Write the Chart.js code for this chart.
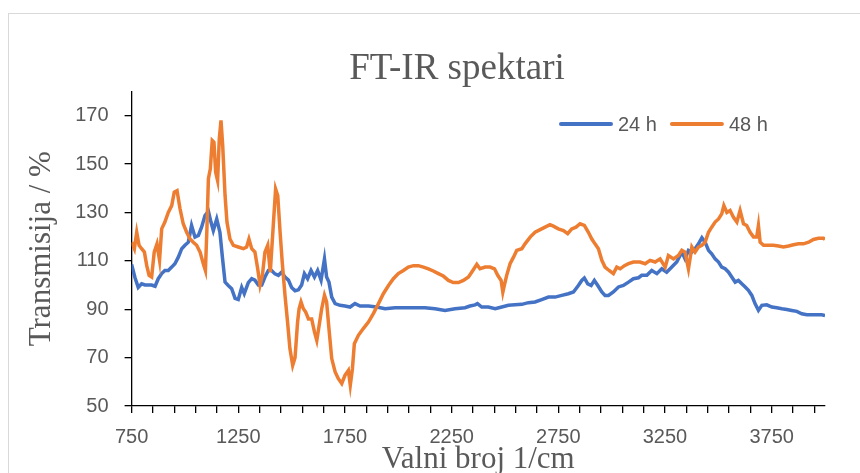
<!DOCTYPE html>
<html>
<head>
<meta charset="utf-8">
<script src="https://cdn.jsdelivr.net/npm/chart.js@4.4.1/dist/chart.umd.min.js"></script>
<style>
  body { margin: 0; background: #fff; overflow: hidden; }
  #frame { position: absolute; left: 8px; top: 13px; width: 900px; height: 500px; border: 1px solid #d9d9d9; }
  #wrap { position: absolute; left: 0; top: 0; width: 860px; height: 473px; }
</style>
</head>
<body>
<div id="frame"></div>
<div id="wrap"><canvas id="myChart" width="860" height="473"></canvas></div>
<script>
/*** data ***/
// 24 h spectrum: wavenumber (1/cm) and transmission (%)
const wn24 = [750, 766, 781, 797, 813, 828, 844, 860, 875, 891,
  906, 922, 938, 953, 969, 985, 1000, 1016, 1031, 1047,
  1063, 1078, 1094, 1110, 1122, 1133, 1149, 1164, 1175, 1188,
  1203, 1219, 1235, 1250, 1266, 1278, 1297, 1313, 1328, 1344,
  1360, 1375, 1391, 1406, 1422, 1438, 1453, 1469, 1485, 1500,
  1516, 1532, 1547, 1560, 1575, 1591, 1607, 1622, 1638, 1654,
  1664, 1675, 1688, 1704, 1727, 1750, 1774, 1797, 1821, 1860,
  1899, 1938, 1985, 2032, 2079, 2125, 2172, 2219, 2266, 2313,
  2336, 2360, 2371, 2391, 2422, 2454, 2485, 2516, 2547, 2579,
  2610, 2641, 2672, 2704, 2735, 2766, 2797, 2821, 2844, 2860,
  2872, 2888, 2904, 2919, 2935, 2954, 2969, 2985, 3008, 3032,
  3055, 3079, 3102, 3126, 3141, 3165, 3188, 3212, 3235, 3258,
  3282, 3305, 3329, 3344, 3360, 3376, 3391, 3407, 3423, 3438,
  3454, 3469, 3485, 3501, 3516, 3532, 3548, 3563, 3579, 3594,
  3610, 3626, 3641, 3657, 3672, 3688, 3704, 3727, 3751, 3774,
  3798, 3821, 3844, 3868, 3891, 3915, 3938, 3962, 3985, 4000];
const t24 = [108.5, 103, 99, 100.5, 100, 100, 100, 99.5, 102.6, 104.7,
  106, 106, 107.4, 108.8, 111.5, 115, 116.4, 117.7, 124.6, 119.8,
  120.5, 123.9, 128.7, 130.5, 126, 122.5, 127.3, 121.8, 112, 101.2,
  99.8, 98.5, 94.5, 94, 99, 96.4, 101, 102.6, 102, 100,
  100, 103.3, 106, 106, 104.6, 104, 105.3, 103.3, 102, 99,
  97.6, 98, 100, 104.7, 102.6, 106, 103.3, 106, 102, 110.8,
  103.3, 101.2, 95, 92.3, 91.6, 91.3, 90.9, 92.3, 91.3, 91.3,
  90.9, 90.2, 90.6, 90.6, 90.6, 90.6, 90.2, 89.5, 90.2, 90.6,
  91.3, 91.8, 92.3, 90.9, 90.9, 90.2, 90.9, 91.6, 91.8, 92,
  92.7, 93, 94, 95, 95, 95.7, 96.4, 97.1, 99.8, 101.9,
  102.9, 100.5, 99.8, 101.9, 99.8, 97.1, 95.7, 95.7, 97.1, 99.2,
  99.8, 101.2, 102.6, 103, 104, 104, 106, 104.7, 106.7, 105.3,
  107.4, 109.5, 113.6, 110.8, 114.3, 113.6, 115, 117, 119.5, 117.7,
  114.3, 112.9, 110.8, 109.5, 107.4, 106.7, 105.3, 103.3, 101.2, 101.9,
  100.5, 99.2, 97.8, 95.7, 92.3, 89.5, 91.6, 91.8, 90.9, 90.6,
  90.2, 89.9, 89.5, 89.1, 88.1, 87.7, 87.7, 87.7, 87.7, 87.4];

// 48 h spectrum
const wn48 = [750, 763, 774, 785, 797, 810, 821, 832, 844, 856,
  869, 881, 891, 906, 922, 938, 950, 963, 977, 992,
  1008, 1024, 1039, 1055, 1071, 1086, 1096, 1103, 1110, 1119,
  1128, 1136, 1144, 1153, 1161, 1169, 1177, 1188, 1197, 1211,
  1227, 1250, 1274, 1289, 1300, 1313, 1328, 1341, 1352, 1363,
  1375, 1388, 1400, 1413, 1425, 1435, 1446, 1456, 1469, 1481,
  1492, 1505, 1516, 1528, 1535, 1544, 1555, 1566, 1579, 1594,
  1607, 1618, 1629, 1641, 1654, 1664, 1675, 1688, 1704, 1719,
  1735, 1750, 1766, 1775, 1785, 1794, 1813, 1836, 1860, 1883,
  1907, 1930, 1954, 1977, 2000, 2024, 2047, 2071, 2094, 2118,
  2141, 2164, 2188, 2211, 2235, 2258, 2282, 2305, 2329, 2344,
  2360, 2368, 2383, 2407, 2430, 2451, 2466, 2482, 2490, 2497,
  2508, 2524, 2540, 2555, 2579, 2594, 2618, 2641, 2665, 2688,
  2711, 2727, 2750, 2774, 2794, 2813, 2833, 2852, 2872, 2891,
  2907, 2922, 2938, 2954, 2969, 2988, 3008, 3024, 3040, 3060,
  3079, 3102, 3133, 3157, 3180, 3204, 3227, 3251, 3266, 3290,
  3313, 3329, 3344, 3360, 3376, 3391, 3407, 3423, 3438, 3454,
  3469, 3485, 3501, 3516, 3526, 3540, 3555, 3571, 3587, 3602,
  3618, 3633, 3649, 3665, 3680, 3688, 3696, 3712, 3735, 3758,
  3782, 3805, 3829, 3852, 3876, 3899, 3923, 3946, 3969, 3993, 4000];
const t48 = [117.7, 115, 121.8, 116.4, 115, 113.6, 108, 104, 103.3, 113.6,
  117, 110.2, 123.2, 126, 130, 132.8, 138.4, 139, 131.5, 125.3,
  121.8, 119, 117.7, 116.4, 113.6, 108.8, 106, 123.2, 143.9, 148,
  159.7, 159, 146.6, 143.2, 160.4, 168, 157.6, 137, 126, 119,
  116.4, 115.7, 115, 115.7, 119, 115, 113.6, 106.7, 100, 104,
  113.6, 116.4, 105.3, 123.2, 139.7, 137, 121.8, 109.5, 95.7, 84.7,
  73.7, 66.8, 70, 84.7, 90.2, 93, 90.2, 88.8, 86, 86,
  80.6, 77.1, 83.3, 90.2, 95.7, 93, 82, 69.6, 64.1, 61.3,
  59.3, 62.7, 64.7, 58.6, 65.4, 75.7, 79.2, 82, 84.7, 88.2,
  92.3, 96.4, 99.8, 102.6, 104.7, 106, 107.4, 108, 108, 107.4,
  106.7, 105.8, 104.7, 103.7, 101.9, 101, 101, 101.9, 103.3, 105.3,
  107.4, 108.5, 106.7, 107.4, 107.4, 106.7, 104, 101.9, 97, 99.8,
  104, 108.8, 111.5, 114.3, 115, 117, 119.8, 121.8, 122.9, 123.9,
  124.9, 124.3, 123.2, 122.5, 121.2, 123.2, 123.9, 125.3, 124.6, 121.8,
  119, 117, 115, 110.2, 107.4, 106, 104.7, 107.4, 106.7, 108,
  108.8, 109.5, 109.5, 108.8, 110.2, 109.5, 110.8, 107.4, 112.2, 110.8,
  112.2, 114.3, 113.6, 106.7, 115.7, 113.6, 115.7, 116.4, 117.7, 121.8,
  123.9, 126, 127.3, 129.4, 132.8, 130, 130.8, 128, 126, 130.8,
  125.3, 124.6, 121.8, 119.8, 119.8, 124.6, 117.7, 116.4, 116.4, 116.4,
  116.1, 115.7, 116.1, 116.6, 117, 117, 117.7, 118.8, 119.3, 119.3, 118.8];

// axis ticks
const xTickValues = [750, 850, 950, 1050, 1150, 1250, 1350, 1450, 1550, 1650,
  1750, 1850, 1950, 2050, 2150, 2250, 2350, 2450, 2550, 2650,
  2750, 2850, 2950, 3050, 3150, 3250, 3350, 3450, 3550, 3650,
  3750, 3850, 3950];
const xLabels = [750, 1250, 1750, 2250, 2750, 3250, 3750];
const yTickValues = [50, 70, 90, 110, 130, 150, 170];
/*** data above ***/

const grey = "#595959";
const sans = "Liberation Sans";
const serif = "Liberation Serif";

// legend sits inside the plot, like the Excel original
const insideLegend = {
  id: "insideLegend",
  afterDraw(chart) {
    const ctx = chart.ctx;
    let x = 559;
    const y = 124;
    ctx.save();
    ctx.font = "20px '" + sans + "'";
    ctx.textBaseline = "middle";
    chart.data.datasets.forEach((ds) => {
      ctx.strokeStyle = ds.borderColor;
      ctx.lineWidth = 4;
      ctx.lineCap = "round";
      ctx.beginPath();
      ctx.moveTo(x + 2, y);
      ctx.lineTo(x + 52, y);
      ctx.stroke();
      ctx.fillStyle = grey;
      ctx.fillText(ds.label, x + 59, y + 1);
      x += 59 + ctx.measureText(ds.label).width + 13;
    });
    ctx.restore();
  },
};

const ctx = document.getElementById("myChart").getContext("2d");
const chart = new Chart(ctx, {
  type: "line",
  data: {
    datasets: [
      {
        label: "24 h",
        borderColor: "#4472C4",
        data: wn24.map((w, i) => ({ x: w, y: t24[i] })),
        borderWidth: 3.5,
        pointRadius: 0,
        fill: false,
        order: 1,
      },
      {
        label: "48 h",
        borderColor: "#ED7D31",
        data: wn48.map((w, i) => ({ x: w, y: t48[i] })),
        borderWidth: 3.5,
        pointRadius: 0,
        fill: false,
        order: 0,
      },
    ],
  },
  options: {
    responsive: false,
    animation: false,
    layout: { padding: { left: 54, right: 0, top: 0, bottom: 0 } },
    plugins: {
      legend: { display: false },
      tooltip: { enabled: false },
      title: {
        display: true,
        text: "FT-IR spektari",
        color: grey,
        font: { family: serif, size: 37, weight: "normal" },
        padding: { top: 47, bottom: 0 },
      },
    },
    scales: {
      x: {
        type: "linear",
        min: 750,
        max: 4000,
        afterBuildTicks: (s) => { s.ticks = xTickValues.map((v) => ({ value: v })); },
        afterFit: (s) => { s.height = 67; },
        ticks: {
          autoSkip: false,
          maxRotation: 0,
          padding: 12,
          color: grey,
          font: { family: sans, size: 20 },
          callback: (v) => (xLabels.includes(v) ? String(v) : ""),
        },
        grid: { drawOnChartArea: false, drawTicks: true, tickLength: 7, color: "#000", lineWidth: 1.3 },
        border: { color: "#000", width: 1.3 },
        title: {
          display: true,
          text: "Valni broj 1/cm",
          color: grey,
          font: { family: serif, size: 31, weight: "normal" },
          padding: { top: 0, bottom: -5 },
        },
      },
      y: {
        min: 50,
        max: 180,
        afterBuildTicks: (s) => { s.ticks = yTickValues.map((v) => ({ value: v })); },
        afterFit: (s) => { s.width = 77.6; },
        ticks: {
          padding: 16,
          color: grey,
          font: { family: sans, size: 20 },
        },
        grid: { drawOnChartArea: false, drawTicks: true, tickLength: 7, color: "#000", lineWidth: 1.3 },
        border: { color: "#000", width: 1.3 },
        title: {
          display: true,
          text: "Transmisija / %",
          color: grey,
          font: { family: serif, size: 31, weight: "normal" },
          padding: { top: -31, bottom: 0 },
        },
      },
      // empty strip on the right so the plot ends where the original does
      pad: {
        position: "right",
        display: true,
        afterFit: (s) => { s.width = 35; },
        grid: { display: false },
        border: { display: false },
        ticks: { display: false },
      },
    },
  },
  plugins: [insideLegend],
});
</script>
</body>
</html>
